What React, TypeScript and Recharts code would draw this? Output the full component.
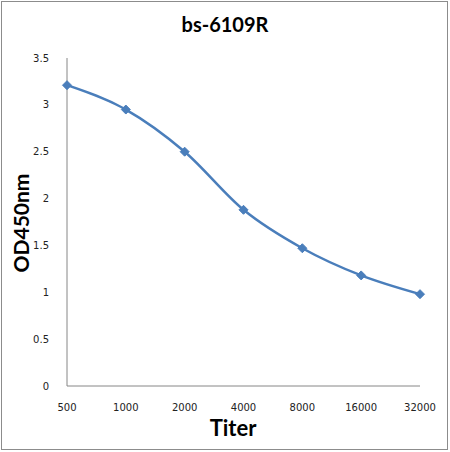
import { Line, LineChart, XAxis, YAxis } from 'recharts'

// titers
const titers = ['500', '1000', '2000', '4000', '8000', '16000', '32000']
const od450 = [3.21, 2.95, 2.5, 1.88, 1.47, 1.18, 0.98]
const yTicks = [0, 0.5, 1, 1.5, 2, 2.5, 3, 3.5]

const data = titers.map((titer, i) => ({ titer, od: od450[i] }))

const BLUE = '#4a7ebb'

function Diamond(props: any) {
  const { cx, cy, index } = props
  if (cx == null || cy == null) return null
  const r = 4.5
  return (
    <polygon
      key={`d-${index}`}
      points={`${cx},${cy - r} ${cx + r},${cy} ${cx},${cy + r} ${cx - r},${cy}`}
      fill={BLUE}
      stroke={BLUE}
    />
  )
}

export default function App() {
  return (
    <div
      style={{
        position: 'relative',
        width: 450,
        height: 452,
        background: '#fff',
        fontFamily: 'Lato, "Open Sans", sans-serif',
      }}
    >
      <style>{`body{margin:0;}`}</style>
      <div
        style={{
          position: 'absolute',
          left: 1,
          top: 1,
          width: 447,
          height: 449,
          border: '1px solid #8c8c8c',
          boxSizing: 'border-box',
        }}
      />
      <div
        style={{
          position: 'absolute',
          top: 12,
          left: 0,
          width: 450,
          textAlign: 'center',
          fontWeight: 700,
          fontSize: 20,
          lineHeight: '24px',
        }}
      >
        bs-6109R
      </div>
      <div
        style={{
          position: 'absolute',
          left: 20,
          top: 223,
          transform: 'translate(-50%, -50%) rotate(-90deg)',
          fontWeight: 700,
          fontSize: 21,
          whiteSpace: 'nowrap',
        }}
      >
        OD450nm
      </div>
      <div
        style={{
          position: 'absolute',
          left: 233,
          top: 427,
          transform: 'translate(-50%, -50%)',
          fontWeight: 700,
          fontSize: 22,
        }}
      >
        Titer
      </div>
      <LineChart
        width={450}
        height={452}
        data={data}
        margin={{ top: 58, right: 30, left: 7, bottom: 36 }}
        style={{ position: 'absolute', left: 0, top: 0 }}
      >
        <XAxis
          dataKey="titer"
          scale="point"
          height={30}
          tick={{ fill: '#222', fontSize: 10, fontFamily: 'DejaVu Sans' }}
          tickLine={false}
          axisLine={{ stroke: '#868686' }}
          tickMargin={12}
          interval={0}
        />
        <YAxis
          width={60}
          domain={[0, 3.5]}
          ticks={yTicks}
          tick={{ fill: '#222', fontSize: 10, fontFamily: 'DejaVu Sans' }}
          tickLine={false}
          axisLine={{ stroke: '#868686' }}
          tickMargin={12}
        />
        <Line
          type="monotone"
          dataKey="od"
          stroke={BLUE}
          strokeWidth={2.5}
          dot={Diamond}
          activeDot={false}
          isAnimationActive={false}
        />
      </LineChart>
    </div>
  )
}
